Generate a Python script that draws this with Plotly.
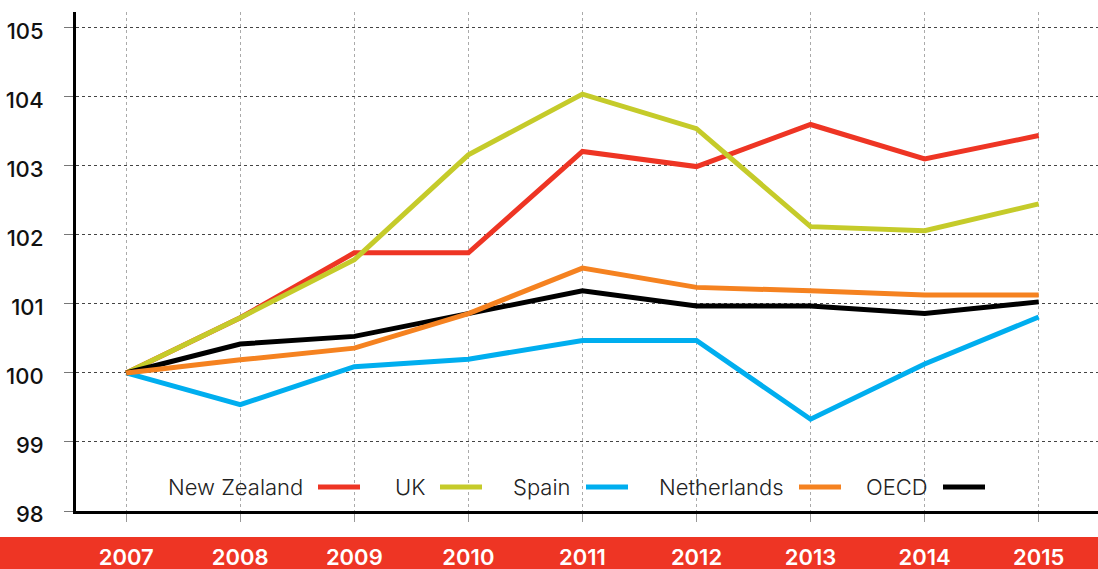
import plotly.graph_objects as go

# Index values (2007 = 100)
years = [2007, 2008, 2009, 2010, 2011, 2012, 2013, 2014, 2015]
new_zealand = [100.0, 100.8, 101.74, 101.74, 103.21, 102.99, 103.6, 103.1, 103.44]
uk = [100.0, 100.8, 101.64, 103.16, 104.04, 103.54, 102.12, 102.06, 102.45]
spain = [100.0, 99.54, 100.09, 100.2, 100.47, 100.47, 99.33, 100.13, 100.81]
netherlands = [100.0, 100.19, 100.36, 100.86, 101.52, 101.24, 101.19, 101.13, 101.13]
oecd = [100.0, 100.42, 100.53, 100.86, 101.19, 100.97, 100.97, 100.86, 101.03]
y_ticks = [98, 99, 100, 101, 102, 103, 104, 105]

series_names = ["New Zealand", "UK", "Spain", "Netherlands", "OECD"]
series_values = [new_zealand, uk, spain, netherlands, oecd]
series_colors = ["#EE3524", "#C5CB2A", "#00AEEF", "#F58220", "#000000"]
draw_order = [0, 1, 2, 4, 3]  # orange line sits above black

FONT = "Inter"
W, H = 1098, 569
L, R, T, B = 76, 0, 12, 58
plot_w = W - L - R
plot_h = H - T - B


def px_x(px):
    return (px - L) / plot_w


def px_y(py):
    return (H - B - py) / plot_h


fig = go.Figure()
for i in draw_order:
    fig.add_trace(go.Scatter(
        x=years, y=series_values[i], name=series_names[i], mode="lines",
        line=dict(color=series_colors[i], width=5),
        showlegend=False, hoverinfo="x+y+name",
    ))

shapes = []
annotations = []

# red band behind the year labels
shapes.append(dict(type="rect", xref="paper", yref="paper",
                   x0=px_x(0), x1=px_x(W), y0=px_y(H + 2), y1=px_y(537),
                   fillcolor="#EE3524", line=dict(width=0), layer="below"))

# legend: label followed by a line sample
legend_text_end = [305, 427, 573, 786, 930]
legend_y = 487
for name, color, xe in zip(series_names, series_colors, legend_text_end):
    annotations.append(dict(text=name, xref="paper", yref="paper",
                            x=px_x(xe), y=px_y(legend_y), xanchor="right", yanchor="middle",
                            showarrow=False,
                            font=dict(family=FONT, size=22, color="#222", weight=300)))
    shapes.append(dict(type="line", xref="paper", yref="paper",
                       x0=px_x(xe + 13), x1=px_x(xe + 55),
                       y0=px_y(legend_y), y1=px_y(legend_y),
                       line=dict(color=color, width=5)))

fig.update_layout(
    width=W, height=H,
    margin=dict(l=L, r=R, t=T, b=B),
    paper_bgcolor="white", plot_bgcolor="white",
    shapes=shapes, annotations=annotations,
    xaxis=dict(
        range=[2006.56, 2015.52], tickvals=years, ticktext=[str(y) for y in years],
        showgrid=True, gridcolor="#aaa", griddash="dot", gridwidth=1,
        ticks="outside", ticklen=8, tickcolor="#999", tickwidth=1,
        ticklabelstandoff=17,
        tickfont=dict(family=FONT, size=22, color="white", weight=600),
        showline=True, linecolor="black", linewidth=3, zeroline=False,
    ),
    yaxis=dict(
        range=[98, 105.23], tickvals=y_ticks,
        showgrid=True, gridcolor="#444", griddash="dot", gridwidth=1,
        ticks="outside", ticklen=9, tickcolor="#777", tickwidth=1,
        ticklabelstandoff=16, ticklabelshift=3,
        tickfont=dict(family=FONT, size=22, color="#111", weight=500),
        showline=True, linecolor="black", linewidth=3, zeroline=False,
    ),
)

fig.write_html("out.html")
